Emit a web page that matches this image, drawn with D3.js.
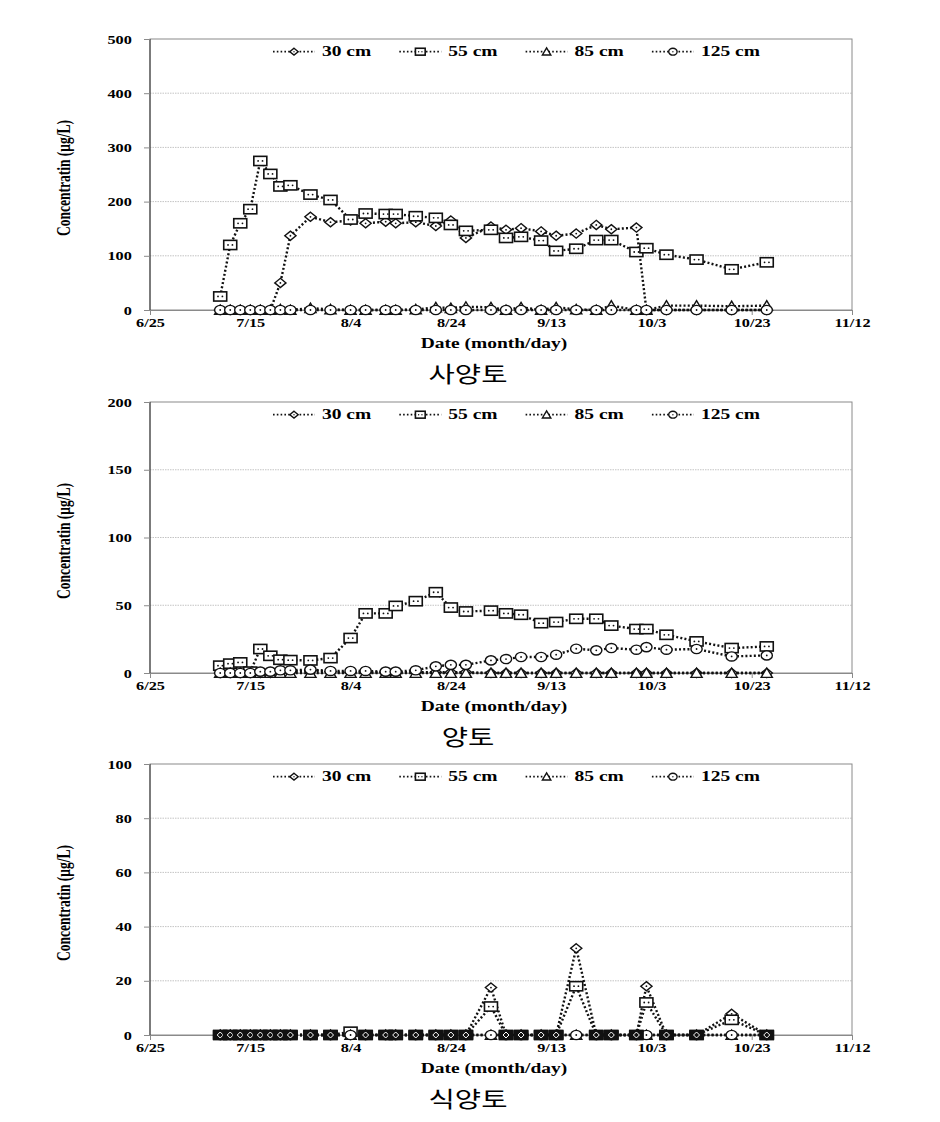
<!DOCTYPE html>
<html>
<head>
<meta charset="utf-8">
<script src="https://cdn.jsdelivr.net/npm/d3@7"></script>
<style>
  body { margin: 0; background: #fff; }
  text { font-family: "Liberation Serif", "Times New Roman", serif; font-weight: bold; fill: #000; }
  text.cap { font-family: "Noto Sans CJK KR", sans-serif; font-weight: normal; }
</style>
</head>
<body>
<svg id="chart" width="940" height="1122"></svg>
<script>
// sampling dates (month/day)
const dates = ["7/9","7/11","7/13","7/15","7/17","7/19","7/21","7/23","7/27","7/31",
               "8/4","8/7","8/11","8/13","8/17","8/21","8/24","8/27","9/1","9/4",
               "9/7","9/11","9/14","9/18","9/22","9/25","9/30","10/2","10/6","10/12",
               "10/19","10/26"];
const xTickLabels = ["6/25","7/15","8/4","8/24","9/13","10/3","10/23","11/12"];
const depths = ["30 cm","55 cm","85 cm","125 cm"];
const soils = ["사양토","양토","식양토"];
const yMax = [500, 200, 100];
const yTicks = [[0,100,200,300,400,500],[0,50,100,150,200],[0,20,40,60,80,100]];

// 사양토 (sandy loam)
const sandy30  = [0,0,0,0,0,0,50,137,172,162,165,160,163,160,162,155,165,133,154,148,151,145,137,141,157,149,152,0,0,0,0,0];
const sandy55  = [25,120,160,186,275,251,228,230,213,203,167,178,177,177,173,170,157,146,148,133,135,128,109,113,129,129,107,114,102,93,75,88];
const sandy85  = [0,0,0,0,0,0,1,0,3.5,1,0,0,0,0,1,5,3.5,6,5,0,5,0,5,1,0,8,0,0,8,8,7,8];
const sandy125 = [0,0,0,0,0,0,0,0,0,0,0,0,0,0,0,0,0,0,0,0,0,0,0,0,0,0,0,0,0,0,0,0];

// 양토 (loam)
const loam30  = [0,0,0,0,0,0,0.5,1,2,1,0.5,0.5,0.5,0.5,0.5,0.5,0.5,0.5,0,0,0,0,0,0,0,0,0,0,0,0,0,0];
const loam55  = [5.4,6.9,7.8,1,17.7,12.7,9.8,9.5,9.3,11,25.8,44,44,49.5,53,59.6,48.3,45.4,46,44,43,36.8,37.6,40,40,35,32.4,32.4,28.2,23.3,18.4,19.6];
const loam85  = [0,0,0,0,0,0,0,0,0,0,0,0,0,0,0,0,0,0,0,0,0,0,0,0,0,0,0,0,0,0,0,0];
const loam125 = [0,0,0,0,1,1,2,2,2.5,1.5,1.5,1.5,1,1,2,4.9,6,6,9.3,10.3,11.8,11.8,13.5,17.9,16.7,18.4,17.2,19.1,17.2,17.7,12.2,13];

// 식양토 (clay loam)
const clay30  = [0,0,0,0,0,0,0,0,0,0,0,0,0,0,0,0,0,0,17.5,0,0,0,0,32,0,0,0,18,0,0,7.8,0];
const clay55  = [0,0,0,0,0,0,0,0,0,0,1.2,0,0,0,0,0,0,0,10.5,0,0,0,0,18,0,0,0,12,0,0,5.6,0];
const clay85  = [0,0,0,0,0,0,0,0,0,0,0,0,0,0,0,0,0,0,0,0,0,0,0,0,0,0,0,0,0,0,0,0];
const clay125 = [0,0,0,0,0,0,0,0,0,0,0,0,0,0,0,0,0,0,0,0,0,0,0,0,0,0,0,0,0,0,0,0];

const panelSeries = [
  [sandy30, sandy55, sandy85, sandy125],
  [loam30, loam55, loam85, loam125],
  [clay30, clay55, clay85, clay125]
];

const svg = d3.select("#chart");
const left = 150, right = 852, plotH = 271;
const tops = [39, 402, 764];
const SX = 1.3;               // the original picture is stretched sideways
const markerTypes = ["diamond", "square", "triangle", "circle"];

const toDate = s => d3.utcParse("%Y/%m/%d")("2015/" + s);
const x = d3.scaleUtc().domain([toDate("6/25"), toDate("11/12")]).range([left, right]);

function stretch(sel) {
  sel.attr("transform", function() {
    const old = d3.select(this).attr("transform") || "";
    return old + ` scale(${SX},1)`;
  });
}

function drawMarker(g, type, s) {
  const sw = 1.4;
  if (type === "diamond") {
    g.append("path").attr("d", `M0,${-4.6*s}L${5.6*s},0L0,${4.6*s}L${-5.6*s},0Z`)
      .attr("fill", "#fff").attr("stroke", "#111").attr("stroke-width", sw);
    g.append("circle").attr("r", 0.9*s).attr("fill", "#111");
  } else if (type === "square") {
    g.append("rect").attr("x", -6.5*s).attr("y", -4.6*s).attr("width", 13*s).attr("height", 9.2*s)
      .attr("fill", "#fff").attr("stroke", "#111").attr("stroke-width", sw + 0.2);
    g.append("circle").attr("cx", -2.2*s).attr("r", 0.9*s).attr("fill", "#111");
    g.append("circle").attr("cx", 2.2*s).attr("r", 0.9*s).attr("fill", "#111");
  } else if (type === "triangle") {
    g.append("path").attr("d", `M0,${-5*s}L${5.6*s},${4.4*s}L${-5.6*s},${4.4*s}Z`)
      .attr("fill", "#fff").attr("stroke", "#111").attr("stroke-width", sw);
  } else {
    g.append("ellipse").attr("rx", 5.6*s).attr("ry", 4.6*s)
      .attr("fill", "#fff").attr("stroke", "#111").attr("stroke-width", sw);
    g.append("circle").attr("r", 0.9*s).attr("fill", "#111");
  }
}

soils.forEach((soil, p) => {
  const top = tops[p], bottom = top + plotH;
  const y = d3.scaleLinear().domain([0, yMax[p]]).range([bottom, top]);
  const g = svg.append("g");

  // gridlines
  g.selectAll(".grid").data(yTicks[p].slice(1, -1)).join("line")
    .attr("x1", left).attr("x2", right)
    .attr("y1", d => y(d)).attr("y2", d => y(d))
    .attr("stroke", "#c4c4c4").attr("stroke-dasharray", "1.5,1");

  // plot frame
  g.append("rect").attr("x", left).attr("y", top).attr("width", right - left).attr("height", plotH)
    .attr("fill", "none").attr("stroke", "#8a8a8a");
  g.append("line").attr("x1", left).attr("x2", left).attr("y1", top).attr("y2", bottom)
    .attr("stroke", "#333");

  // y axis
  const yAxis = g.append("g").attr("transform", `translate(${left},0)`)
    .call(d3.axisLeft(y).tickValues(yTicks[p]).tickSize(6).tickPadding(8));
  yAxis.select(".domain").remove();
  yAxis.selectAll(".tick line").attr("stroke", "#8a8a8a");
  yAxis.selectAll(".tick text").attr("font-size", 12.5).call(stretch);

  // x axis
  const xAxis = g.append("g").attr("transform", `translate(0,${bottom})`)
    .call(d3.axisBottom(x).tickValues(xTickLabels.map(toDate))
      .tickFormat(d3.utcFormat("%-m/%-d")).tickSize(5).tickPadding(3));
  xAxis.select(".domain").attr("stroke", "#8a8a8a");
  xAxis.selectAll(".tick line").attr("stroke", "#8a8a8a");
  xAxis.selectAll(".tick text").attr("font-size", 12.5).call(stretch);

  // axis titles
  g.append("text").attr("text-anchor", "middle").attr("font-size", 15)
    .attr("transform", `translate(494,${bottom + 38.4})`).text("Date (month/day)").call(stretch);
  g.append("text").attr("text-anchor", "middle").attr("font-size", 13.5)
    .attr("transform", `translate(70,${(top + bottom) / 2 + 3.5}) scale(1.45,1) rotate(-90)`)
    .text("Concentratin (μg/L)");
  g.append("text").attr("class", "cap").attr("text-anchor", "middle").attr("font-size", 22)
    .attr("transform", `translate(468,${bottom + 72})`).text(soil).call(stretch);

  // series
  const line = d3.line().x(d => x(toDate(d.date))).y(d => y(d.v));
  panelSeries[p].forEach((vals, s) => {
    const pts = dates.map((d, i) => ({ date: d, v: vals[i] }));
    g.append("path").attr("d", line(pts)).attr("fill", "none")
      .attr("stroke", "#111").attr("stroke-width", 2.4).attr("stroke-dasharray", "2,2.2");
    pts.forEach(d => {
      const m = g.append("g").attr("transform", `translate(${x(toDate(d.date))},${y(d.v)})`);
      drawMarker(m, markerTypes[s], 1);
    });
  });

  // in the clay loam panel the overlapping zero markers print as dark blocks
  if (p === 2) {
    dates.forEach((d, i) => {
      if (panelSeries[p][1][i] !== 0) return;
      const m = g.append("g").attr("transform", `translate(${x(toDate(d))},${y(0)})`);
      m.append("rect").attr("x", -7.5).attr("y", -4.8).attr("width", 15).attr("height", 9.6).attr("fill", "#111");
      m.append("path").attr("d", "M0,-3L3,0L0,3L-3,0Z").attr("fill", "none").attr("stroke", "#fff").attr("stroke-width", 1);
    });
  }

  // legend
  depths.forEach((lab, s) => {
    const lx = 273 + s * 126.3, ly = top + 12.7;
    g.append("line").attr("x1", lx).attr("x2", lx + 42).attr("y1", ly).attr("y2", ly)
      .attr("stroke", "#111").attr("stroke-width", 1.8).attr("stroke-dasharray", "1.6,2.2");
    const m = g.append("g").attr("transform", `translate(${lx + 21},${ly})`);
    drawMarker(m, markerTypes[s], 0.75);
    g.append("text").attr("font-size", 15).attr("transform", `translate(${lx + 49},${top + 17})`)
      .text(lab).call(stretch);
  });
});
</script>
</body>
</html>
